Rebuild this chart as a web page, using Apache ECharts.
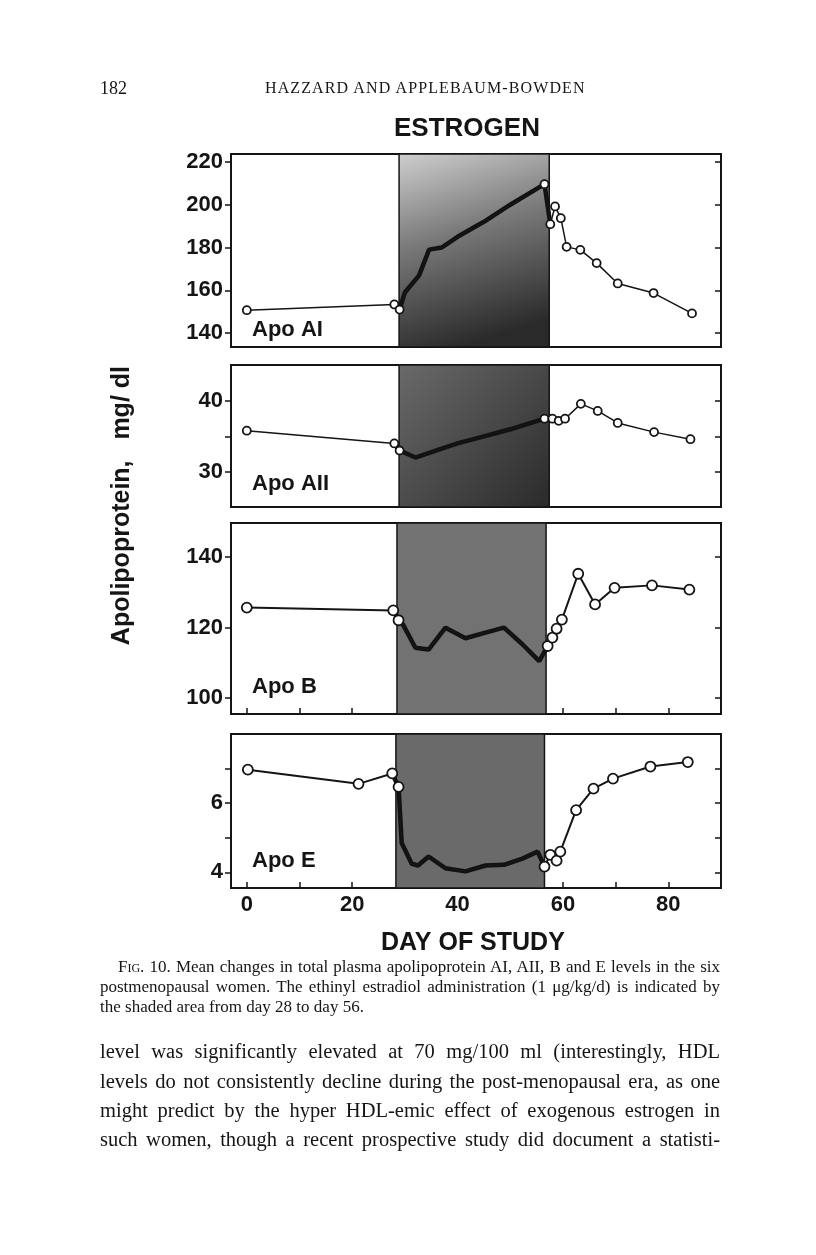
<!DOCTYPE html>
<html>
<head>
<meta charset="utf-8">
<script src="https://cdn.jsdelivr.net/npm/echarts@6/dist/echarts.min.js"></script>
<style>
  body { margin: 0; background: #fff; }
  #main { position: absolute; left: 0; top: 0; width: 816px; height: 1255px; }
  .t { position: absolute; font-family: "Liberation Serif", serif; color: #151515; white-space: nowrap; line-height: 1; }
  .j { text-align: justify; text-align-last: justify; }
  .sc { font-variant: small-caps; }
</style>
</head>
<body>
<div id="main"></div>

<div class="t" style="left:100px;top:79px;font-size:18px">182</div>
<div class="t" style="left:265px;top:80px;font-size:16px;letter-spacing:1.1px">HAZZARD AND APPLEBAUM-BOWDEN</div>

<div class="t j" style="left:118px;top:958px;width:602px;font-size:17px"><span class="sc">Fig.</span> 10. Mean changes in total plasma apolipoprotein AI, AII, B and E levels in the six</div>
<div class="t j" style="left:100px;top:978px;width:620px;font-size:17px">postmenopausal women. The ethinyl estradiol administration (1 μg/kg/d) is indicated by</div>
<div class="t" style="left:100px;top:998px;font-size:17px">the shaded area from day 28 to day 56.</div>

<div class="t j" style="left:100px;top:1041px;width:620px;font-size:20.5px">level was significantly elevated at 70 mg/100 ml (interestingly, HDL</div>
<div class="t j" style="left:100px;top:1071px;width:620px;font-size:20.5px">levels do not consistently decline during the post-menopausal era, as one</div>
<div class="t j" style="left:100px;top:1100px;width:620px;font-size:20.5px">might predict by the hyper HDL-emic effect of exogenous estrogen in</div>
<div class="t j" style="left:100px;top:1129px;width:620px;font-size:20.5px">such women, though a recent prospective study did document a statisti-</div>

<script>
// 初始化图表
const myChart = echarts.init(document.getElementById('main'));

// x axis: day of study
const xLabelDays = [0, 20, 40, 60, 80];
const xTickDays = [0, 10, 20, 30, 40, 50, 60, 70, 80];

// Apo AI
const apoAIDays = [0, 28, 29, 30, 32.7, 34.6, 37, 40, 45, 50, 56.5, 57.6, 58.5, 59.6, 60.7, 63.3, 66.4, 70.4, 77.2, 84.5];
const apoAIValues = [150.7, 153.4, 151, 159, 167, 179, 180, 185, 192, 200, 209.6, 190.9, 199.2, 193.7, 180.3, 178.9, 172.7, 163.2, 158.7, 149.2];
const apoAILabels = [140, 160, 180, 200, 220];

// Apo AII
const apoAIIDays = [0, 28, 29, 32, 36, 40, 45, 50, 56.5, 58, 59.2, 60.4, 63.4, 66.6, 70.4, 77.3, 84.2];
const apoAIIValues = [35.8, 34.0, 33.0, 32.0, 33.0, 34.0, 35.0, 36.0, 37.5, 37.5, 37.2, 37.5, 39.6, 38.6, 36.9, 35.6, 34.6];
const apoAIILabels = [30, 40];
const apoAIITicks = [30, 35, 40];

// Apo B
const apoBDays = [0, 27.8, 28.8, 29.6, 32, 34.5, 37.7, 41.5, 45.3, 48.8, 52.3, 55.5, 57.1, 58, 58.8, 59.8, 62.9, 66.1, 69.8, 76.9, 84];
const apoBValues = [125.7, 124.9, 122.1, 121, 114.3, 113.8, 120, 117, 118.6, 120, 115.3, 110.5, 114.8, 117.2, 119.7, 122.3, 135.3, 126.6, 131.3, 132, 130.8];
const apoBLabels = [100, 120, 140];

// Apo E
const apoEDays = [0.2, 21.2, 27.6, 28.8, 29.4, 31.3, 32.5, 34.5, 37.7, 41.5, 45.3, 48.8, 52.3, 55.2, 56.5, 57.6, 58.8, 59.5, 62.5, 65.8, 69.5, 76.6, 83.7];
const apoEValues = [6.97, 6.56, 6.86, 6.47, 4.85, 4.25, 4.2, 4.46, 4.12, 4.03, 4.2, 4.22, 4.4, 4.6, 4.17, 4.51, 4.34, 4.6, 5.8, 6.42, 6.71, 7.06, 7.19];
const apoELabels = [4, 6];
const apoETicks = [4, 5, 6, 7];

const ink = '#151515';
const font = '"Liberation Sans", Arial, sans-serif';

const panels = [
  { name: 'Apo AI', days: apoAIDays, values: apoAIValues, labels: apoAILabels, ticks: apoAILabels,
    top: 154, height: 193, min: 133.5, max: 223.7, shade: [28.9, 57.4], sym: 8, lw: 1.5,
    fill: new echarts.graphic.LinearGradient(0, 0, 0.4, 1, [
      { offset: 0, color: '#cfcfcf' }, { offset: 0.45, color: '#7a7a7a' }, { offset: 1, color: '#2a2a2a' }]),
    labelY: 331, xTicks: false },
  { name: 'Apo AII', days: apoAIIDays, values: apoAIIValues, labels: apoAIILabels, ticks: apoAIITicks,
    top: 365, height: 142, min: 25, max: 45.1, shade: [28.9, 57.4], sym: 8, lw: 1.5,
    fill: new echarts.graphic.LinearGradient(0, 0, 1, 1, [
      { offset: 0, color: '#6a6a6a' }, { offset: 1, color: '#2a2a2a' }]),
    labelY: 485, xTicks: false },
  { name: 'Apo B', days: apoBDays, values: apoBValues, labels: apoBLabels, ticks: apoBLabels,
    top: 523, height: 191, min: 95.5, max: 149.7, shade: [28.5, 56.8], sym: 10, lw: 2,
    fill: '#727272', labelY: 688, xTicks: true },
  { name: 'Apo E', days: apoEDays, values: apoEValues, labels: apoELabels, ticks: apoETicks,
    top: 734, height: 154, min: 3.55, max: 8.0, shade: [28.3, 56.5], sym: 10, lw: 2,
    fill: '#6a6a6a', labelY: 862, xTicks: true }
];

const grid = [], xAxis = [], yAxis = [], series = [], graphic = [];

panels.forEach((p, i) => {
  grid.push({ left: 231, width: 490, top: p.top, height: p.height, show: true,
    borderColor: ink, borderWidth: 2, backgroundColor: 'transparent' });

  xAxis.push({
    type: 'value', gridIndex: i, min: -3, max: 90,
    axisLine: { show: false, onZero: false },
    splitLine: { show: false },
    axisTick: { show: p.xTicks, inside: true, length: 6, customValues: xTickDays,
      lineStyle: { color: ink, width: 1.5 } },
    axisLabel: { show: i === 3, customValues: xLabelDays, margin: 6,
      fontFamily: font, fontWeight: 'bold', fontSize: 22, color: ink }
  });

  yAxis.push({
    type: 'value', gridIndex: i, min: p.min, max: p.max, position: 'left',
    axisLine: { show: false, onZero: false },
    splitLine: { show: false },
    axisTick: { show: true, length: 6, customValues: p.ticks, lineStyle: { color: ink, width: 1.5 } },
    axisLabel: { customValues: p.labels, margin: 8, fontFamily: font, fontWeight: 'bold',
      fontSize: 22, color: ink }
  });
  yAxis.push({
    type: 'value', gridIndex: i, min: p.min, max: p.max, position: 'right',
    axisLine: { show: false, onZero: false },
    splitLine: { show: false },
    axisTick: { show: true, inside: true, length: 6, customValues: p.ticks, lineStyle: { color: ink, width: 1.5 } },
    axisLabel: { show: false }
  });

  const pts = p.days.map((d, k) => [d, p.values[k]]);
  const inner = pts.filter(([d]) => d >= p.shade[0] - 1 && d <= p.shade[1] + 1);

  // 阴影区 + 粗线
  series.push({
    type: 'line', xAxisIndex: i, yAxisIndex: 2 * i, data: inner,
    symbol: 'none', z: 2, silent: true,
    lineStyle: { color: '#111', width: 4.5 },
    markArea: {
      silent: true,
      itemStyle: { color: p.fill, borderColor: ink, borderWidth: 1.5 },
      data: [[{ xAxis: p.shade[0] }, { xAxis: p.shade[1] }]]
    }
  });

  series.push({
    name: p.name, type: 'line', xAxisIndex: i, yAxisIndex: 2 * i, z: 4,
    data: pts.map(([d, v]) => (d > 29 && d < 56) ? { value: [d, v], symbol: 'none' } : [d, v]),
    symbol: 'circle', symbolSize: p.sym,
    itemStyle: { color: '#fff', borderColor: ink, borderWidth: 1.8 },
    lineStyle: { color: ink, width: p.lw }
  });

  graphic.push({ type: 'text', left: 252, top: p.labelY - 12, z: 10,
    style: { text: p.name, font: 'bold 22px ' + font, fill: ink } });
});

graphic.push({ type: 'text', left: 394, top: 116, z: 10,
  style: { text: 'ESTROGEN', font: 'bold 26px ' + font, fill: ink } });
graphic.push({ type: 'text', left: 381, top: 931, z: 10,
  style: { text: 'DAY OF STUDY', font: 'bold 25px ' + font, fill: ink } });
graphic.push({ type: 'text', left: 110, top: 366, rotation: Math.PI / 2, z: 10,
  style: { text: 'Apolipoprotein,   mg/ dl', font: 'bold 25px ' + font, fill: ink } });

const option = {
  animation: false,
  backgroundColor: '#fff',
  grid: grid,
  xAxis: xAxis,
  yAxis: yAxis,
  series: series,
  graphic: graphic
};

myChart.setOption(option);
</script>
</body>
</html>
